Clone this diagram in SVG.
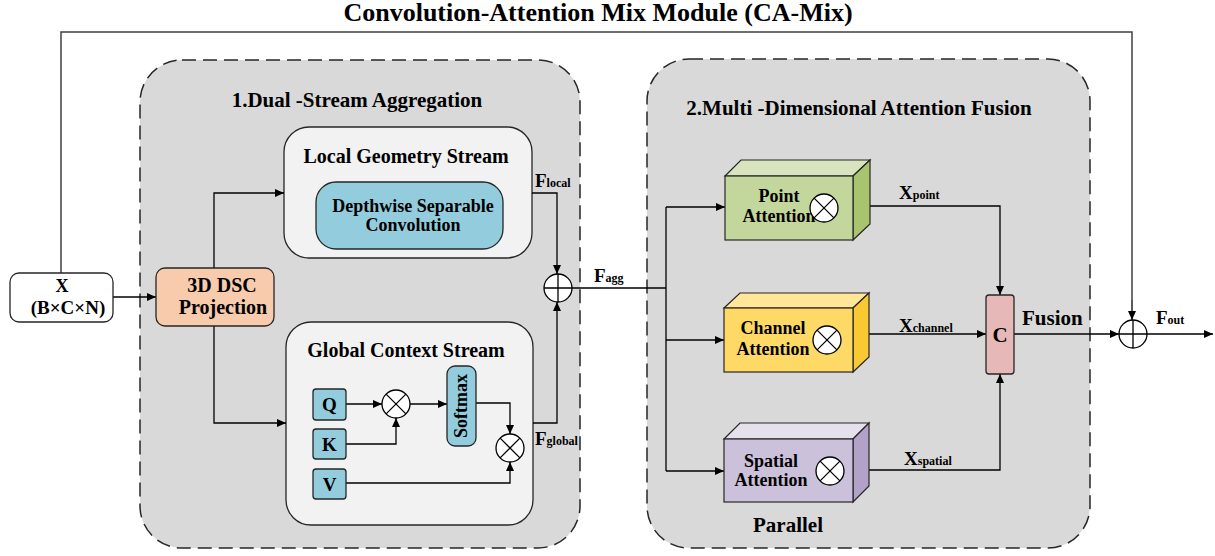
<svg xmlns="http://www.w3.org/2000/svg" width="1215" height="556" viewBox="0 0 1215 556">
<defs>
<marker id="ah" markerWidth="9" markerHeight="8" refX="9" refY="4" orient="auto" markerUnits="userSpaceOnUse"><path d="M0,0 L9,4 L0,8 z" fill="#000"/></marker>
<style>
text{font-family:"Liberation Serif","Times New Roman",serif;font-weight:bold;fill:#000}
.t{font-size:21px}
.m{font-size:18px}
.sub{font-size:12px}
.sec{fill:#d9d9d9;stroke:#262626;stroke-width:1.5;stroke-dasharray:14 7}
.inner{fill:#f2f2f2;stroke:#262626;stroke-width:1.3}
.blue{fill:#93cddd;stroke:#262626;stroke-width:1.3}
.ln{fill:none;stroke:#000;stroke-width:1.3}
.arr{fill:none;stroke:#000;stroke-width:1.3;marker-end:url(#ah)}
.fb{fill:none;stroke:#404040;stroke-width:1.5}
.op{fill:#fff;stroke:#000;stroke-width:1.3}
.edge{stroke:#262626;stroke-width:1.2}
</style>
</defs>
<rect width="1215" height="556" fill="#fff"/>
<text x="598" y="21" style="font-size:26px" text-anchor="middle">Convolution-Attention Mix Module (CA-Mix)</text>

<g id="section1">
<rect class="sec" x="140" y="60" width="440" height="488" rx="42"/>
<text class="t" x="357" y="107" text-anchor="middle">1.Dual -Stream Aggregation</text>
</g>
<g id="section2">
<rect class="sec" x="647" y="59" width="443" height="489" rx="42"/>
<text class="t" x="859" y="115" text-anchor="middle">2.Multi -Dimensional Attention Fusion</text>
<text class="t" x="788" y="532" text-anchor="middle">Parallel</text>
</g>

<g id="local-stream">
<rect class="inner" x="284" y="127" width="248" height="131" rx="25"/>
<text class="t" x="406" y="163" text-anchor="middle" style="font-size:20px">Local Geometry Stream</text>
<rect class="blue" x="316" y="182" width="187" height="67" rx="20"/>
<text class="m" x="413" y="212" text-anchor="middle">Depthwise Separable</text>
<text class="m" x="413" y="231" text-anchor="middle">Convolution</text>
</g>

<g id="global-stream">
<rect class="inner" x="286" y="322" width="247" height="203" rx="25"/>
<text class="t" x="406" y="357" text-anchor="middle" style="font-size:20px">Global Context Stream</text>
</g>

<g id="connectors">
<path class="fb" d="M61,273 V32 H1132 V300"/>
<path class="arr" d="M1132,300 V320"/>
<path class="arr" d="M113,297 H156"/>
<path class="arr" d="M214,268 V193 H284"/>
<path class="arr" d="M214,326 V423 H286"/>
<path class="arr" d="M532,193 H557 V274"/>
<path class="arr" d="M533,423 H557 V302"/>
<path class="arr" d="M346,404 H382"/>
<path class="arr" d="M346,444 H396 V418"/>
<path class="arr" d="M410,404 H447"/>
<path class="arr" d="M476,403 H510 V434"/>
<path class="arr" d="M346,483 H510 V462"/>
<path class="ln" d="M572,288 H666 M666,207 V471"/>
<path class="arr" d="M666,207 H725"/>
<path class="arr" d="M666,340 H724"/>
<path class="arr" d="M666,471 H724"/>
<path class="arr" d="M870,206 H1000 V295"/>
<path class="arr" d="M869,334 H986"/>
<path class="arr" d="M869,470 H1000 V374"/>
<path class="arr" d="M1014,334 H1119"/>
<path class="arr" d="M1147,334 H1213"/>
</g>

<g id="labels">
<text x="535" y="187" style="font-size:19px">F<tspan class="sub">local</tspan></text>
<text x="535" y="445" style="font-size:19px">F<tspan class="sub">global</tspan></text>
<text x="594" y="282" style="font-size:19px">F<tspan class="sub">agg</tspan></text>
<text x="899" y="199" style="font-size:19px">X<tspan class="sub">point</tspan></text>
<text x="899" y="332" style="font-size:19px">X<tspan class="sub">channel</tspan></text>
<text x="904" y="465" style="font-size:19px">X<tspan class="sub">spatial</tspan></text>
<text x="1156" y="324" style="font-size:19px">F<tspan class="sub">out</tspan></text>
<text class="t" x="1022" y="325">Fusion</text>
</g>

<g id="input-x">
<rect x="10" y="273" width="103" height="49" rx="9" fill="#fff" stroke="#262626" stroke-width="1.3"/>
<text class="m" x="62" y="292" text-anchor="middle">X</text>
<text class="m" x="68" y="314" text-anchor="middle" style="font-size:19px">(B×C×N)</text>
</g>

<g id="dsc-projection">
<rect x="156" y="268" width="118" height="58" rx="9" fill="#f8cbad" stroke="#262626" stroke-width="1.3"/>
<text class="t" x="222" y="292" text-anchor="middle" style="font-size:20px">3D DSC</text>
<text class="t" x="223" y="314" text-anchor="middle" style="font-size:20px">Projection</text>
</g>

<g id="q"><rect class="blue" x="313" y="389" width="33" height="31" rx="3"/><text class="t" x="329.5" y="411" text-anchor="middle" style="font-size:19px">Q</text></g>
<g id="k"><rect class="blue" x="313" y="429" width="33" height="30" rx="3"/><text class="t" x="329.5" y="451" text-anchor="middle" style="font-size:19px">K</text></g>
<g id="v"><rect class="blue" x="313" y="469" width="33" height="30" rx="3"/><text class="t" x="329.5" y="491" text-anchor="middle" style="font-size:19px">V</text></g>
<g id="mul-qk"><circle class="op" cx="396" cy="404" r="14"/><path class="ln" d="M386.1,394.1 L405.9,413.9 M405.9,394.1 L386.1,413.9"/></g>
<g id="softmax"><rect class="blue" x="447" y="366" width="29" height="80" rx="8"/><text class="m" x="0" y="0" text-anchor="middle" transform="translate(467,406) rotate(-90)">Softmax</text></g>
<g id="mul-v"><circle class="op" cx="510" cy="448" r="14"/><path class="ln" d="M500.1,438.1 L519.9,457.9 M519.9,438.1 L500.1,457.9"/></g>

<g id="add-agg"><circle class="op" cx="558" cy="288" r="14"/><path class="ln" d="M544,288 H572 M558,274 V302"/></g>

<g id="point-attention">
<polygon points="725,176 741,160 870,160 853,176" fill="#d8e4bd" class="edge"/>
<polygon points="853,176 870,160 870,224 853,240" fill="#a9c46f" class="edge"/>
<rect x="725" y="176" width="128" height="64" fill="#c3d69b" class="edge"/>
<text class="m" x="779" y="202" text-anchor="middle">Point</text>
<text class="m" x="779" y="222" text-anchor="middle">Attention</text>
<circle class="op" cx="824" cy="208" r="14"/><path class="ln" d="M814.1,198.1 L833.9,217.9 M833.9,198.1 L814.1,217.9"/>
</g>

<g id="channel-attention">
<polygon points="724,308 740,293 869,293 853,308" fill="#ffe699" class="edge"/>
<polygon points="853,308 869,293 869,357 853,372" fill="#f9c934" class="edge"/>
<rect x="724" y="308" width="129" height="64" fill="#ffd966" class="edge"/>
<text class="m" x="773" y="334" text-anchor="middle">Channel</text>
<text class="m" x="773" y="355" text-anchor="middle">Attention</text>
<circle class="op" cx="827" cy="340" r="14"/><path class="ln" d="M817.1,330.1 L836.9,349.9 M836.9,330.1 L817.1,349.9"/>
</g>

<g id="spatial-attention">
<polygon points="724,439 740,423 869,423 853,439" fill="#e5e0ec" class="edge"/>
<polygon points="853,439 869,423 869,486 853,502" fill="#b3a2c7" class="edge"/>
<rect x="724" y="439" width="129" height="63" fill="#ccc1da" class="edge"/>
<text class="m" x="771" y="467" text-anchor="middle">Spatial</text>
<text class="m" x="771" y="486" text-anchor="middle">Attention</text>
<circle class="op" cx="830" cy="471" r="14"/><path class="ln" d="M820.1,461.1 L839.9,480.9 M839.9,461.1 L820.1,480.9"/>
</g>

<g id="concat">
<rect x="986" y="295" width="28" height="79" rx="3" fill="#e6b8b7" stroke="#262626" stroke-width="1.3"/>
<text class="t" x="1000" y="342" text-anchor="middle">C</text>
</g>

<g id="add-out"><circle class="op" cx="1133" cy="334" r="14"/><path class="ln" d="M1119,334 H1147 M1133,320 V348"/></g>
</svg>
